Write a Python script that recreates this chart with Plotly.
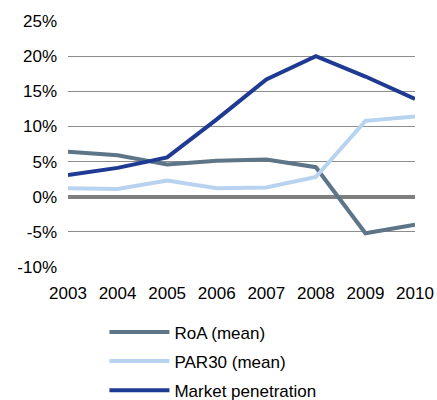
import plotly.graph_objects as go

years = [2003, 2004, 2005, 2006, 2007, 2008, 2009, 2010]
roa = [6.4, 5.9, 4.6, 5.1, 5.3, 4.2, -5.2, -4.0]
par30 = [1.2, 1.1, 2.3, 1.2, 1.3, 2.8, 10.8, 11.4]
market_pen = [3.1, 4.1, 5.6, 11.0, 16.7, 20.0, 17.1, 13.9]
y_ticks = [-10, -5, 0, 5, 10, 15, 20, 25]
y_tick_labels = [f"{v}%" for v in y_ticks]

names = ["RoA (mean)", "PAR30 (mean)", "Market penetration"]
colors = ["#5d7587", "#b7d3f0", "#1f3a93"]
series = [roa, par30, market_pen]

fig = go.Figure()
for name, vals, col in zip(names, series, colors):
    fig.add_trace(go.Scatter(x=years, y=vals, name=name, mode="lines",
                             line=dict(color=col, width=4), legendgroup=name))

font = dict(family="Liberation Sans, Arial, sans-serif", size=17, color="#000000")
fig.update_layout(
    width=437, height=400,
    margin=dict(l=68, r=22, t=21, b=133, autoexpand=False),
    paper_bgcolor="white", plot_bgcolor="white",
    font=font,
    showlegend=True,
    legend=dict(x=0.105, y=0.214, xref="paper", yref="container",
                xanchor="left", yanchor="top",
                traceorder="grouped", tracegroupgap=4, itemwidth=60,
                font=font, bgcolor="rgba(0,0,0,0)"),
    xaxis=dict(range=[2003, 2010], tickvals=years, ticktext=[str(y) for y in years],
               showgrid=False, zeroline=False, showline=False, ticks="",
               ticklabelstandoff=14, tickfont=font, automargin=False),
    yaxis=dict(range=[-10, 25], tickvals=y_ticks, ticktext=y_tick_labels,
               showgrid=True, gridcolor="#8c8c8c", gridwidth=1,
               zeroline=True, zerolinecolor="#7f7f7f", zerolinewidth=4,
               showline=False, ticks="", ticklabelstandoff=10, tickfont=font,
               automargin=False),
)
fig.write_html("out.html", config={"displayModeBar": False},
               post_script="document.body.style.margin='0';document.body.style.overflow='hidden';")
